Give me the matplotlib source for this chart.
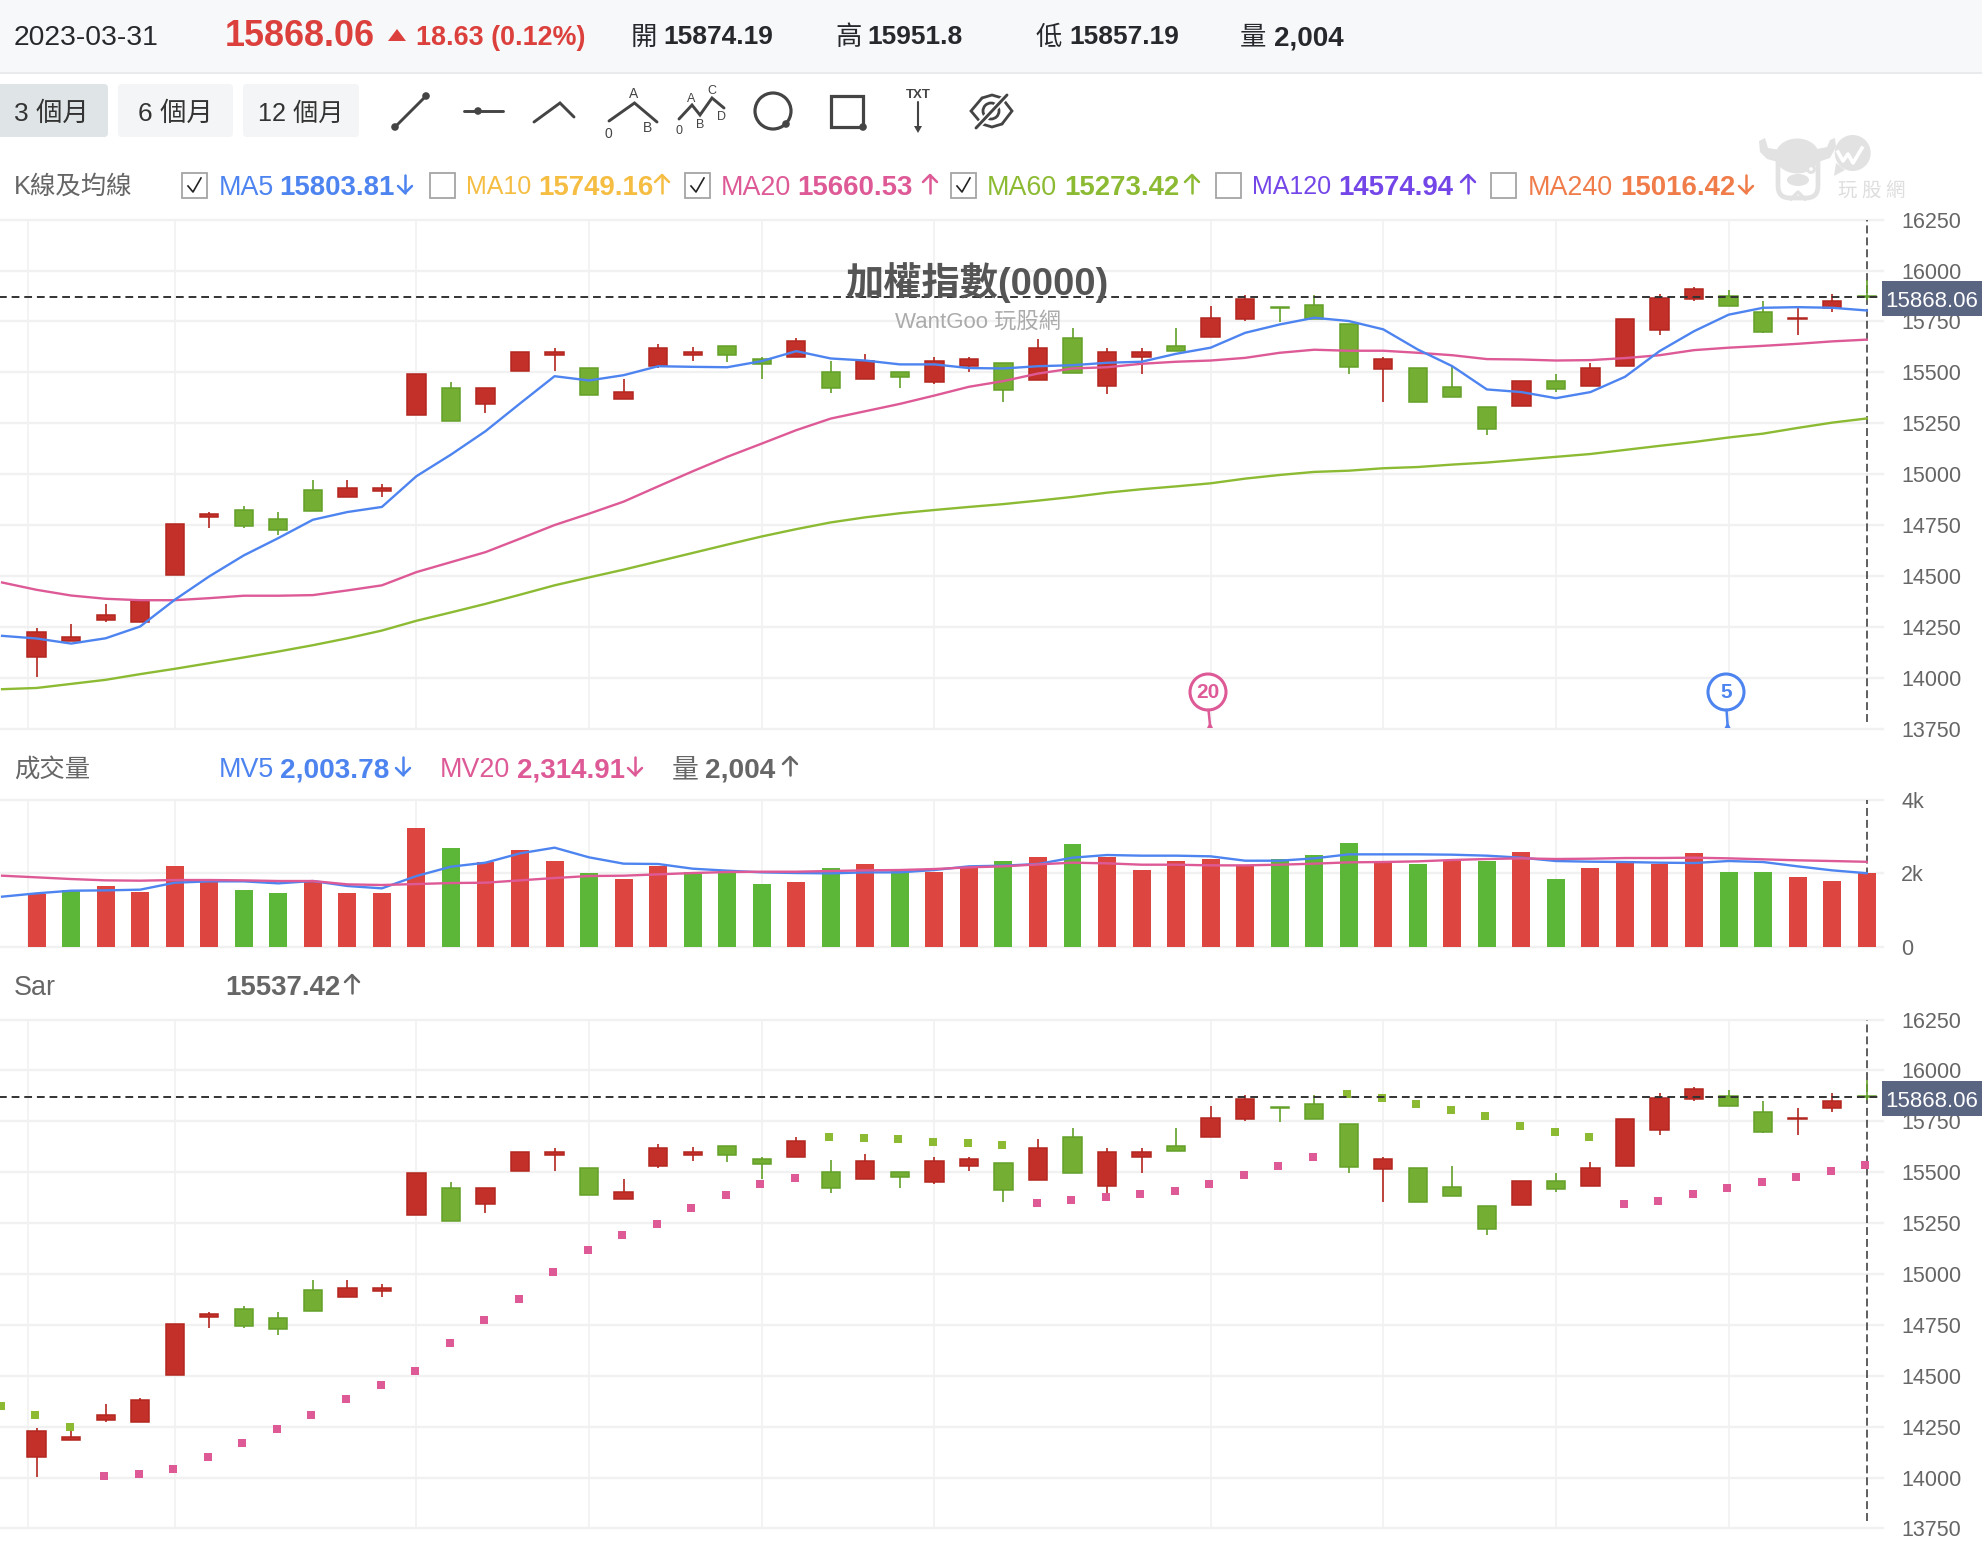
import numpy as np
import matplotlib
matplotlib.use('Agg')
import matplotlib.pyplot as plt
from matplotlib.patches import FancyBboxPatch, Rectangle, Circle, Ellipse, Polygon

plt.rcParams['font.family'] = ['Liberation Sans', 'Noto Sans CJK TC', 'DejaVu Sans']

W, H = 1982, 1544

# daily candles
opens = [14102, 14183, 14282, 14272, 14503, 14790, 14826, 14782, 14923, 14888,
         14916, 15291, 15422, 15345, 15505, 15584, 15520, 15371, 15532, 15584,
         15627, 15564, 15576, 15502, 15469, 15502, 15451, 15532, 15546, 15461,
         15671, 15433, 15576, 15628, 15674, 15763, 15823, 15833, 15735, 15515,
         15520, 15430, 15332, 15337, 15458, 15433, 15532, 15710, 15861, 15877,
         15797, 15764, 15817, 15874.19]
highs = [14246, 14263, 14361, 14389, 14754, 14816, 14842, 14816, 14970, 14970,
         14950, 15494, 15451, 15424, 15600, 15620, 15520, 15469, 15638, 15622,
         15627, 15573, 15671, 15558, 15592, 15502, 15573, 15573, 15546, 15664,
         15718, 15620, 15620, 15718, 15825, 15879, 15823, 15879, 15735, 15573,
         15520, 15530, 15332, 15458, 15494, 15548, 15761, 15887, 15921, 15903,
         15851, 15815, 15887, 15951.8]
lows = [14004, 14183, 14274, 14272, 14503, 14736, 14736, 14702, 14819, 14888,
        14888, 15291, 15263, 15299, 15505, 15505, 15389, 15371, 15522, 15556,
        15550, 15468, 15576, 15397, 15469, 15424, 15442, 15504, 15353, 15461,
        15496, 15396, 15494, 15604, 15674, 15753, 15745, 15763, 15494, 15353,
        15353, 15381, 15193, 15337, 15404, 15433, 15532, 15684, 15851, 15826,
        15692, 15684, 15797, 15857.19]
closes = [14227, 14200, 14307, 14379, 14754, 14806, 14746, 14728, 14819, 14931,
          14932, 15494, 15263, 15424, 15600, 15600, 15389, 15404, 15618, 15602,
          15586, 15540, 15654, 15425, 15556, 15478, 15556, 15564, 15415, 15618,
          15496, 15600, 15600, 15604, 15769, 15859, 15818, 15763, 15524, 15564,
          15353, 15381, 15221, 15458, 15417, 15520, 15761, 15867, 15911, 15826,
          15700, 15769, 15849, 15868.06]

# moving averages, first value belongs to the day before the first candle
ma5 = [14206, 14193, 14168, 14194, 14252, 14383, 14498, 14601, 14686, 14776, 14814,
       14839, 14990, 15096, 15211, 15347, 15481, 15460, 15486, 15530, 15527,
       15525, 15555, 15604, 15568, 15558, 15539, 15539, 15521, 15519, 15530,
       15535, 15547, 15552, 15591, 15621, 15694, 15735, 15768, 15752, 15711,
       15612, 15530, 15416, 15403, 15373, 15403, 15478, 15604, 15702, 15783,
       15817, 15820, 15817, 15803.81]
ma20 = [14468, 14432, 14404, 14388, 14381, 14381, 14391, 14403, 14403, 14406, 14429,
        14454, 14519, 14568, 14617, 14683, 14750, 14806, 14865, 14940, 15014,
        15085, 15150, 15216, 15273, 15309, 15345, 15386, 15429, 15457, 15494,
        15519, 15525, 15542, 15552, 15558, 15571, 15596, 15611, 15606, 15606,
        15596, 15584, 15565, 15563, 15558, 15560, 15570, 15584, 15609, 15621,
        15630, 15640, 15652, 15660.53]
ma60 = [13944, 13950, 13970, 13990, 14018, 14044, 14072, 14100, 14129, 14160, 14194,
        14232, 14280, 14321, 14363, 14408, 14454, 14493, 14531, 14572, 14613,
        14654, 14694, 14730, 14763, 14788, 14808, 14824, 14839, 14853, 14870,
        14888, 14909, 14926, 14940, 14955, 14978, 14996, 15011, 15017, 15029,
        15035, 15047, 15057, 15071, 15085, 15099, 15119, 15139, 15158, 15180,
        15199, 15227, 15253, 15273.42]

# volume
volumes = [1436, 1545, 1655, 1500, 2200, 1773, 1555, 1455, 1791, 1455,
           1455, 3236, 2691, 2300, 2645, 2345, 2000, 1855, 2200, 2045,
           2064, 1700, 1755, 2145, 2255, 2064, 2045, 2182, 2345, 2445,
           2791, 2445, 2100, 2345, 2391, 2236, 2391, 2491, 2836, 2345,
           2245, 2345, 2345, 2591, 1845, 2145, 2327, 2245, 2545, 2045,
           2045, 1900, 1800, 2004]
vol_up = [1, 0, 1, 1, 1, 1, 0, 0, 1, 1,
          1, 1, 0, 1, 1, 1, 0, 1, 1, 0,
          0, 0, 1, 0, 1, 0, 1, 1, 0, 1,
          0, 1, 1, 1, 1, 1, 0, 0, 0, 1,
          0, 1, 0, 1, 0, 1, 1, 1, 1, 0,
          0, 1, 1, 1]
mv5 = [1364, 1455, 1527, 1536, 1555, 1745, 1782, 1782, 1727, 1791, 1655,
       1591, 1927, 2182, 2291, 2545, 2700, 2436, 2264, 2255, 2127,
       2073, 2027, 2009, 2000, 2027, 2027, 2091, 2191, 2209, 2255,
       2427, 2500, 2482, 2482, 2464, 2345, 2345, 2409, 2518, 2518,
       2518, 2509, 2482, 2427, 2336, 2318, 2309, 2291, 2282, 2336,
       2309, 2191, 2082, 2003.78]
mv20 = [1936, 1891, 1845, 1809, 1800, 1818, 1818, 1809, 1791, 1791, 1700,
        1682, 1709, 1736, 1745, 1809, 1873, 1927, 1936, 1973, 2009,
        2036, 2045, 2045, 2064, 2082, 2091, 2118, 2164, 2191, 2245,
        2291, 2273, 2236, 2236, 2218, 2218, 2236, 2264, 2300, 2309,
        2327, 2364, 2391, 2409, 2391, 2400, 2418, 2418, 2427, 2409,
        2382, 2355, 2336, 2314.91]

# parabolic SAR, same start as the moving averages
sar_values = [14353, 14310, 14250, 14007, 14020, 14043, 14100, 14172, 14240, 14310, 14387,
              14457, 14526, 14662, 14772, 14877, 15008, 15119, 15191, 15247, 15324,
              15389, 15442, 15473, 15674, 15668, 15661, 15651, 15643, 15635, 15350,
              15363, 15378, 15392, 15410, 15440, 15486, 15533, 15574, 15884, 15867,
              15836, 15807, 15774, 15728, 15697, 15673, 15342, 15358, 15391, 15422,
              15451, 15476, 15504, 15537.42]
sar_rising = [0, 0, 0, 1, 1, 1, 1, 1, 1, 1, 1,
              1, 1, 1, 1, 1, 1, 1, 1, 1, 1,
              1, 1, 1, 0, 0, 0, 0, 0, 0, 1,
              1, 1, 1, 1, 1, 1, 1, 1, 0, 0,
              0, 0, 0, 0, 0, 0, 1, 1, 1, 1,
              1, 1, 1, 1]

last_price = 15868.06
price_ticks = [16250, 16000, 15750, 15500, 15250, 15000, 14750, 14500, 14250, 14000, 13750]
vol_ticks = [4000, 2000, 0]
vol_tick_labels = ['4k', '2k', '0']
grid_days = [-0.26, 4, 11, 16, 21, 26, 34, 39, 44, 49]

RED_BODY = '#c23029'
RED_EDGE = '#b3261f'
GREEN_BODY = '#74ae32'
GREEN_EDGE = '#64a02a'
BLUE = '#4d84f0'
PINK = '#dd5a97'
LIME = '#8cbb33'
GRAY = '#666666'
DARK = '#26282b'
GRID = '#f1f1f1'

fig = plt.figure(figsize=(W / 100, H / 100), dpi=100, facecolor='white')


def panel(top, bottom, right=1883):
    ax = fig.add_axes([0, 1 - bottom / H, right / W, (bottom - top) / H])
    ax.set_xlim(-36.6 / 34.53, (right - 36.6) / 34.53)
    for s in ax.spines.values():
        s.set_visible(False)
    ax.yaxis.tick_right()
    ax.set_xticks(grid_days)
    ax.tick_params(axis='x', length=0, labelbottom=False)
    ax.tick_params(axis='y', length=0, labelsize=15.5, labelcolor=GRAY, pad=13)
    ax.set_axisbelow(True)
    ax.grid(True, axis='x', color=GRID, lw=1.2)
    ax.grid(True, axis='y', color=GRID, lw=1.7)
    return ax


def draw_candles(ax):
    days = np.arange(len(opens))
    up = np.array(closes) >= np.array(opens)
    for mask, body, edge in [(up, RED_BODY, RED_EDGE), (~up, GREEN_BODY, GREEN_EDGE)]:
        ax.vlines(days[mask], np.array(lows)[mask], np.array(highs)[mask], color=edge, lw=1.2, zorder=3)
        bottoms = np.minimum(opens, closes)[mask]
        heights = np.abs(np.array(closes) - np.array(opens))[mask]
        ax.bar(days[mask], heights, bottom=bottoms, width=0.53, color=body, edgecolor=edge, lw=1.1, zorder=4)


def price_axis(ax):
    ax.set_ylim(13750, 16250)
    ax.set_yticks(price_ticks)
    for g in ax.get_ygridlines():
        g.set_clip_on(False)
    ax.hlines(last_price, -2, 53.6, color='#333333', lw=1.4, linestyles=(0, (4, 2.5)), zorder=7)
    ax.vlines(53, 13785, 16250, color='#333333', lw=1.1, linestyles=(0, (5.2, 2.6)), zorder=2)


line_x = np.arange(-1, 54)

# candles with moving averages
ax_main = panel(219.6, 728.7)
price_axis(ax_main)
draw_candles(ax_main)
ax_main.plot(line_x, ma60, color=LIME, lw=1.7, zorder=5)
ax_main.plot(line_x, ma20, color=PINK, lw=1.7, zorder=5)
ax_main.plot(line_x, ma5, color=BLUE, lw=1.7, zorder=6)

# volume
ax_vol = panel(800, 946.7)
ax_vol.set_ylim(0, 4000)
ax_vol.set_yticks(vol_ticks)
ax_vol.set_yticklabels(vol_tick_labels)
for g in ax_vol.get_ygridlines():
    g.set_clip_on(False)
ax_vol.vlines(53, 0, 4000, color='#333333', lw=1.1, linestyles=(0, (5.2, 2.6)), zorder=2)
vol_colors = ['#dd4541' if v else '#5cb637' for v in vol_up]
ax_vol.bar(np.arange(len(volumes)), volumes, width=0.52, color=vol_colors, zorder=3)
ax_vol.plot(line_x, mv5, color=BLUE, lw=1.7, zorder=5)
ax_vol.plot(line_x, mv20, color=PINK, lw=1.7, zorder=6)

# candles with SAR
ax_sar = panel(1019.6, 1528.5)
price_axis(ax_sar)
draw_candles(ax_sar)
sar_x = line_x - 0.04
rising = np.array(sar_rising) == 1
ax_sar.scatter(sar_x[rising], np.array(sar_values)[rising], marker='s', s=30, color=PINK, lw=0, zorder=5)
ax_sar.scatter(sar_x[~rising], np.array(sar_values)[~rising], marker='s', s=30, color=LIME, lw=0, zorder=5)

# everything around the panels is placed in pixels
ov = fig.add_axes([0, 0, 1, 1], zorder=10)
ov.set_xlim(0, W)
ov.set_ylim(H, 0)
ov.axis('off')
ov.patch.set_alpha(0)


def label(x, y, s, size=19.4, color=DARK, weight='normal', ha='left', zorder=5):
    ov.text(x, y, s, fontsize=size, color=color, fontweight=weight, ha=ha, va='center_baseline', zorder=zorder)


def arrow(x, y, up, color):
    d = -1 if up else 1
    ov.plot([x, x], [y - 9, y + 9], color=color, lw=1.8, solid_capstyle='round')
    tip = y + 9 * d
    ov.plot([x - 7, x, x + 7], [tip - 7 * d, tip, tip - 7 * d], color=color, lw=1.8, solid_capstyle='round', solid_joinstyle='round')


def checkbox(x, y, checked):
    ov.add_patch(Rectangle((x, y - 12.5), 25, 25, fc='white', ec='#a5a5a5', lw=1.3))
    if checked:
        ov.plot([x + 6, x + 11, x + 19], [y + 1, y + 7, y - 7], color='#222222', lw=1.2)


def line_icon(xs, ys, lw=2.1):
    ov.plot(xs, ys, color='#444444', lw=lw, solid_capstyle='round', solid_joinstyle='miter')


def dot(x, y, r=3.8):
    ov.add_patch(Circle((x, y), r, fc='#444444', ec='none'))


# top strip
ov.add_patch(Rectangle((0, 0), W, 72.5, fc='#f6f8fa', ec='none'))
ov.plot([0, W], [73, 73], color='#e6e8ea', lw=1.2)
label(14, 35, '2023-03-31', size=20.4)
label(225, 33, '15868.06', size=25.8, color='#dc403c', weight='bold')
ov.add_patch(Polygon([[388, 41], [406, 41], [397, 29]], fc='#dc403c', ec='none'))
label(416, 35, '18.63 (0.12%)', size=19.4, color='#dc403c', weight='bold')
for cx, nx, ch, val, val_size in [(631, 663, '開', '15874.19', 19), (835, 867, '高', '15951.8', 19),
                                  (1036, 1069, '低', '15857.19', 19), (1240, 1274, '量', '2,004', 20)]:
    label(cx, 35, ch, size=19)
    label(nx, 35, val, size=val_size, weight='bold')

# range buttons
for x0, x1, col, s, sz in [(-8, 108, '#dfe4e6', '3 個月', 19), (118, 233, '#f4f5f6', '6 個月', 19),
                           (243, 359, '#f4f5f6', '12 個月', 18.2)]:
    ov.add_patch(FancyBboxPatch((x0, 84), x1 - x0, 53, boxstyle='round,pad=0,rounding_size=4', fc=col, ec='none'))
    label(14 if x0 < 0 else (x0 + x1) / 2, 111, s, size=sz, color='#333333', ha='left' if x0 < 0 else 'center')

# drawing tools
line_icon([395, 426], [127, 96])
dot(395, 127)
dot(426, 96)
line_icon([464, 503], [111, 111])
dot(478, 111)
line_icon([534, 560, 574], [122, 103, 117])
line_icon([609, 634.5, 657], [121, 103, 122])
label(634, 93, 'A', size=10, color='#444444', ha='center')
label(608, 132, '0', size=10, color='#444444', ha='center')
label(648, 127, 'B', size=10, color='#444444', ha='center')
line_icon([679, 692, 700, 712, 724], [119, 105, 115, 98, 108])
label(691, 98, 'A', size=9, color='#444444', ha='center')
label(712, 90, 'C', size=9, color='#444444', ha='center')
label(679, 129, '0', size=9, color='#444444', ha='center')
label(700, 124, 'B', size=9, color='#444444', ha='center')
label(721, 116, 'D', size=9, color='#444444', ha='center')
ov.add_patch(Circle((773, 111), 18, fc='none', ec='#444444', lw=2.3))
dot(786, 124)
ov.add_patch(Rectangle((831, 96), 32, 31, fc='none', ec='#444444', lw=2.3))
dot(863, 127)
label(918, 94, 'TXT', size=9.5, color='#444444', ha='center', weight='bold')
line_icon([918, 918], [102, 130], lw=1.5)
ov.add_patch(Polygon([[914, 126], [922, 126], [918, 133]], fc='#444444', ec='none'))
line_icon([982, 971, 982], [98, 111, 124], lw=2)
line_icon([1002, 1012, 1002], [98, 111, 124], lw=2)
line_icon([982, 992, 1002], [98, 95, 98], lw=2)
line_icon([982, 992, 1002], [124, 127, 124], lw=2)
ov.add_patch(Circle((991, 111), 8, fc='none', ec='#444444', lw=2))
ov.plot([976, 1007], [128, 95], color='white', lw=4.5)
line_icon([976, 1007], [128, 95], lw=2.1)

# watermark
WM = '#e2e2e2'
ov.add_patch(Circle((1852.7, 153), 18, fc=WM, ec='none'))
ov.add_patch(Polygon([[1836, 163], [1834, 176], [1845, 170]], fc=WM, ec='none'))
ov.plot([1838, 1843, 1848, 1853, 1862], [152, 161, 154, 163, 148], color='white', lw=2.6)
ov.add_patch(Polygon([[1759, 141], [1765, 138], [1768, 148], [1780, 150], [1778, 162], [1767, 159], [1760, 152]], fc=WM, ec='none'))
ov.add_patch(Polygon([[1830, 140], [1835, 138], [1836, 147], [1830, 158], [1818, 162], [1817, 149], [1827, 147]], fc=WM, ec='none'))
ov.add_patch(FancyBboxPatch((1778, 148), 40, 50, boxstyle='round,pad=0,rounding_size=12', fc='white', ec=WM, lw=3.4))
ov.add_patch(Ellipse((1797.3, 156), 44, 35, fc=WM, ec='none'))
ov.add_patch(Circle((1811, 169), 3.4, fc='white', ec=WM, lw=2.2))
ov.add_patch(Ellipse((1798, 180), 22, 12, fc=WM, ec='none'))
ov.plot([1791, 1798, 1805], [199, 192, 199], color=WM, lw=2.4)
for wm_x, ch in [(1847, '玩'), (1871, '股'), (1895, '網')]:
    ov.text(wm_x, 191, ch, fontsize=14, color='#dedede', ha='center', va='center')

# legend rows
label(14, 184, 'K線及均線', size=18.3, color=GRAY)
legend_items = [(182, True, 219, 'MA5', 279, '15803.81', 405, False, BLUE),
                (430, False, 466, 'MA10', 538, '15749.16', 662, True, '#f5bd42'),
                (685, True, 721, 'MA20', 797, '15660.53', 930, True, PINK),
                (951, True, 987, 'MA60', 1064, '15273.42', 1192, True, LIME),
                (1216, False, 1252, 'MA120', 1338, '14574.94', 1468, True, '#7446e8'),
                (1491, False, 1528, 'MA240', 1620, '15016.42', 1746, False, '#f07c4a')]
for box_x, on, name_x, name, val_x, val, arr_x, arr_up, col in legend_items:
    checkbox(box_x, 185, on)
    label(name_x, 185, name, size=18 if name in ('MA10', 'MA120') else 19.4, color=col)
    label(val_x, 185, val, size=19.9, color=col, weight='bold')
    arrow(arr_x, 184, arr_up, col)

label(14, 767, '成交量', size=18.3, color=GRAY)
label(219, 767, 'MV5', color=BLUE)
label(280, 767, '2,003.78', size=20.2, color=BLUE, weight='bold')
arrow(403, 766, False, BLUE)
label(440, 767, 'MV20', color=PINK)
label(517, 767, '2,314.91', size=20, color=PINK, weight='bold')
arrow(635, 766, False, PINK)
label(672, 767, '量', color=GRAY)
label(705, 767, '2,004', size=20.2, color=GRAY, weight='bold')
arrow(790, 766, True, GRAY)

label(14, 985, 'Sar', color=GRAY)
label(225, 985, '15537.42', size=19.9, color=GRAY, weight='bold')
arrow(352, 984, True, GRAY)

# chart title
label(977, 279, '加權指數(0000)', size=27.5, color='#555555', weight='bold', ha='center')
label(978, 320, 'WantGoo 玩股網', size=16, color='#ababab', ha='center')

# last price tags
for tag_y in [298.3, 1098]:
    ov.add_patch(Rectangle((1882, tag_y - 17.5), 100, 35, fc='#5a6582', ec='none'))
    label(1932, tag_y + 1, '15868.06', size=16, color='white', ha='center')

# moving average crossing pins
for cx, stem_x, s, col in [(1208, 1210, '20', PINK), (1726, 1727.6, '5', BLUE)]:
    ov.add_patch(Circle((cx, 692), 18, fc='white', ec=col, lw=2.2))
    ov.text(cx, 692, s, fontsize=15, fontweight='bold', color=col, ha='center', va='center')
    ov.plot([cx + 0.5, stem_x], [710, 725], color=col, lw=1.8)
    ov.add_patch(Polygon([[stem_x - 3, 728], [stem_x + 3, 728], [stem_x, 722]], fc=col, ec='none'))

fig.savefig('out.png', dpi=100)
